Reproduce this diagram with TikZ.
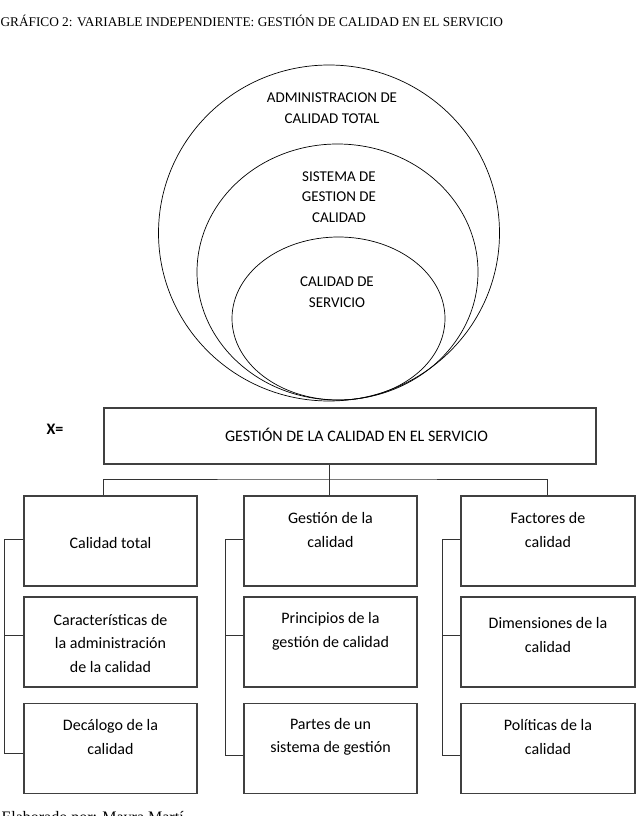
\documentclass[tikz,border=0pt]{standalone}
\usepackage{fontspec}
\setmainfont{Carlito}
\newfontfamily\timesfont{Liberation Serif}
\usetikzlibrary{shapes.geometric}

\tikzset{
  box/.style={draw=black!75, line width=1.1pt, minimum width=173pt, minimum height=90pt, inner sep=0pt},
  ring/.style={draw, ellipse, line width=0.7pt, inner sep=0pt},
  boxtext/.style={align=center, font=\fontsize{16}{23.5}\selectfont},
  ringtext/.style={align=center, font=\fontsize{15}{20.5}\selectfont},
  link/.style={draw=black!80, line width=0.9pt},
}

\begin{document}
\begin{tikzpicture}[x=1pt, y=-1pt]
    \useasboundingbox (0,0) rectangle (644,816);
    % title and credit
    \node[anchor=base west, font=\timesfont\fontsize{13.3}{15}\selectfont] (title) at (-3,26.5)
        {GRÁFICO 2: VARIABLE INDEPENDIENTE: GESTIÓN DE CALIDAD EN EL SERVICIO};
    \node[anchor=base west, font=\timesfont\fontsize{16}{18}\selectfont] (credit) at (-2,822.5)
        {Elaborado por: Mayra Martí};

    % nested ellipses
    \node[ring, minimum width=341pt, minimum height=336pt] (adm) at (329,233) {};
    \node[ring, minimum width=281pt, minimum height=256pt] (sgc) at (337.5,272) {};
    \node[ring, minimum width=213pt, minimum height=163pt] (cds) at (338.5,318.5) {};
    \node[ringtext] (admtext) at (332,108) {ADMINISTRACION DE\\CALIDAD TOTAL};
    \node[ringtext] (sgctext) at (339,197) {SISTEMA DE\\GESTION DE\\CALIDAD};
    \node[ringtext] (cdstext) at (337,292) {CALIDAD DE\\SERVICIO};

    % main variable
    \node[font=\bfseries\fontsize{16}{18}\selectfont] (xlabel) at (55,429) {X=};
    \node[box, minimum width=492pt, minimum height=56pt] (main) at (350,436) {};
    \node[boxtext] (maintext) at (356.5,435) {GESTIÓN DE LA CALIDAD EN EL SERVICIO};

    % dimension boxes
    \node[box] (b11) at (110.5,541) {};
    \node[box] (b12) at (110.5,642) {};
    \node[box] (b13) at (110.5,748.5) {};
    \node[box] (b21) at (330.5,541) {};
    \node[box] (b22) at (330.5,642) {};
    \node[box] (b23) at (330.5,748.5) {};
    \node[box, minimum width=174pt] (b31) at (548,541) {};
    \node[box, minimum width=174pt] (b32) at (548,642) {};
    \node[box, minimum width=174pt] (b33) at (548,748.5) {};

    \node[boxtext] (t11) at (110.5,543) {Calidad total};
    \node[boxtext] (t12) at (110.5,643) {Características de\\la administración\\de la calidad};
    \node[boxtext] (t13) at (110.5,737) {Decálogo de la\\calidad};
    \node[boxtext] (t21) at (330.5,530) {Gestión de la\\calidad};
    \node[boxtext] (t22) at (330.5,631.5) {Principios de la\\gestión de calidad};
    \node[boxtext] (t23) at (330.5,737) {Partes de un\\sistema de gestión};
    \node[boxtext] (t31) at (548,530) {Factores de\\calidad};
    \node[boxtext] (t32) at (548,635) {Dimensiones de la\\calidad};
    \node[boxtext] (t33) at (548,737) {Políticas de la\\calidad};

    % tree connectors
    \coordinate (hub) at (329,479);
    \draw[link] (main.south -| hub) -- ([xshift=-1.5pt]b21.north);
    \draw[link] ([xshift=-7.5pt]b11.north) |- (hub) -| ([xshift=-1pt]b31.north);

    % side brackets
    \draw[link] ([yshift=2pt]b11.west) -- ++(-19,0) |- ([yshift=-4.5pt]b13.west);
    \draw[link] ([yshift=7pt]b12.west) -- ++(-19,0);
    \draw[link] ([yshift=2pt]b21.west) -- ++(-18,0) |- ([yshift=-6.5pt]b23.west);
    \draw[link] ([yshift=7pt]b22.west) -- ++(-18,0);
    \draw[link] ([yshift=2pt]b31.west) -- ++(-18,0) |- ([yshift=-6.5pt]b33.west);
    \draw[link] ([yshift=7pt]b32.west) -- ++(-18,0);
\end{tikzpicture}
\end{document}
